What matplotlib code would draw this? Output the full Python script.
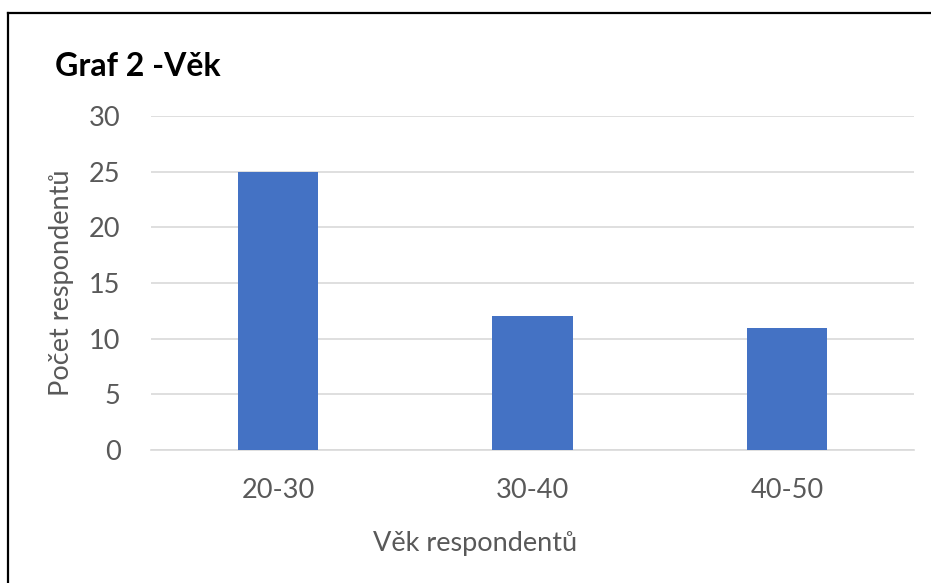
import matplotlib.pyplot as plt
from matplotlib.lines import Line2D

plt.rcParams['font.family'] = ['Lato', 'DejaVu Sans']

categories = ['20-30', '30-40', '40-50']
values = [25, 12, 11]
y_ticks = [0, 5, 10, 15, 20, 25, 30]

W, H = 931, 583
fig = plt.figure(figsize=(W / 100, H / 100), dpi=100)
ax = fig.add_axes([151 / W, 1 - 450 / H, 763 / W, 334 / H])

ax.bar(range(len(categories)), values, width=0.315, color='#4472c4', zorder=3)
ax.set_xlim(-0.5, len(categories) - 0.5)
ax.set_ylim(0, 30)
ax.set_yticks(y_ticks)
ax.set_xticks(range(len(categories)))
ax.set_xticklabels(categories)
ax.tick_params(length=0, labelsize=19.5, colors='#595959', pad=22)
ax.tick_params(axis='x', pad=20)
ax.grid(axis='y', color='#d9d9d9', linewidth=1.2, zorder=0)
for s in ['top', 'right', 'left']:
    ax.spines[s].set_visible(False)
ax.spines['bottom'].set_color('#d9d9d9')
ax.spines['bottom'].set_linewidth(1.2)

ax.set_xlabel('Věk respondentů', fontsize=19.5, color='#595959')
ax.xaxis.set_label_coords((475 - 151) / 763, -(543 - 450) / 334)
ax.xaxis.label.set_va('center')
ax.set_ylabel('Počet respondentů', fontsize=19.5, color='#595959', labelpad=11)

fig.text(55 / W, 1 - 66 / H, 'Graf 2 -Věk', fontsize=23, fontweight='bold',
         va='center', ha='left', color='black')

# frame: top and left edges only visible in the crop
fig.add_artist(Line2D([8 / W, 1], [1 - 13 / H, 1 - 13 / H], transform=fig.transFigure,
                      color='black', linewidth=1.6))
fig.add_artist(Line2D([8 / W, 8 / W], [0, 1 - 13 / H], transform=fig.transFigure,
                      color='black', linewidth=1.6))

fig.savefig('out.png', dpi=100)
